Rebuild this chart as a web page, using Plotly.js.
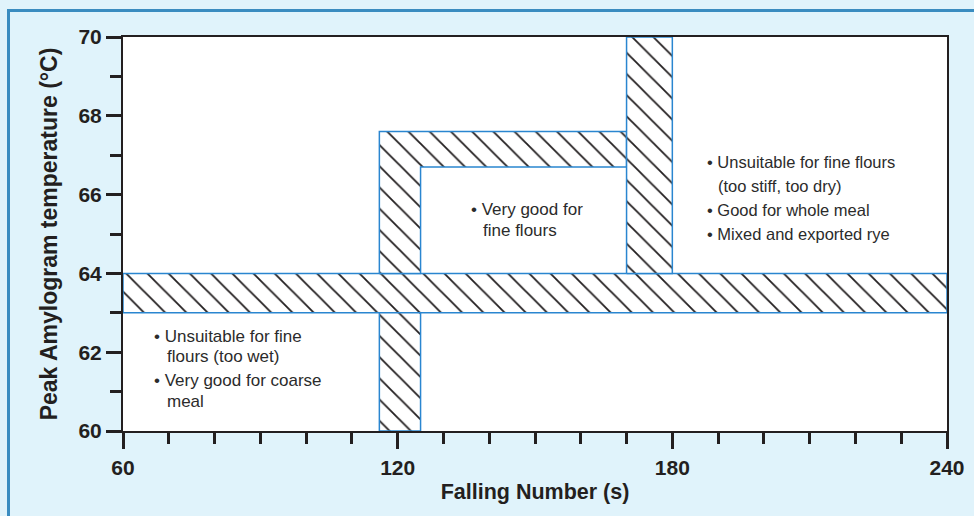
<!DOCTYPE html>
<html>
<head>
<meta charset="utf-8">
<script src="https://cdn.plot.ly/plotly-3.0.1.min.js"></script>
<style>
  html, body { margin: 0; padding: 0; }
  #wrap { position: relative; width: 974px; height: 516px; overflow: hidden; background: #e0f3fb; }
  #frame { position: absolute; left: 7px; top: 9px; width: 1100px; height: 700px;
           border-left: 3px solid #3a8cc0; border-top: 3px solid #3a8cc0; box-sizing: border-box; }
  #chart { position: absolute; left: 0; top: 0; width: 974px; height: 516px; }
</style>
</head>
<body>
<div id="wrap"><div id="frame"></div><div id="chart"></div></div>
<script>
// Region outlines (Falling Number in s, Peak Amylogram temperature in °C)
const regionNames = ['Band 63–64 °C', 'Column 116–125 s (low)', 'Upper L-shaped zone', 'Column 170–180 s'];
const regionX = [
  [60, 240, 240, 60, 60],
  [116, 125, 125, 116, 116],
  [116, 116, 170, 170, 125, 125, 116],
  [170, 180, 180, 170, 170]
];
const regionY = [
  [63, 63, 64, 64, 63],
  [60, 60, 63, 63, 60],
  [64, 67.6, 67.6, 66.7, 66.7, 64, 64],
  [64, 64, 70, 70, 64]
];

// Text notes
const noteText = [
  '• Unsuitable for fine', 'flours (too wet)', '• Very good for coarse', 'meal',
  '• Very good for', 'fine flours',
  '• Unsuitable for fine flours', '(too stiff, too dry)', '• Good for whole meal', '• Mixed and exported rye'
];
const noteSize = [17, 17, 17, 17, 17, 17, 16.5, 16.5, 16.5, 16.5];
const noteX = [66.3, 69.2, 66.3, 69.2, 135.6, 138.2, 187.1, 189.5, 187.1, 187.1];
const noteY = [62.39, 61.90, 61.29, 60.76, 65.61, 65.08, 66.83, 66.22, 65.61, 65.0];

const xTickVals = [60, 120, 180, 240];
const yTickVals = [60, 62, 64, 66, 68, 70];

const ink = '#231f20';
const font = '"Liberation Sans", Arial, Helvetica, sans-serif';

const traces = regionX.map((xs, i) => ({
  type: 'scatter',
  mode: 'lines',
  name: regionNames[i],
  x: xs,
  y: regionY[i],
  fill: 'toself',
  fillcolor: 'white',
  fillpattern: { shape: '\\', size: 15, solidity: 0.12, fgcolor: ink, bgcolor: 'white' },
  line: { color: '#2a86d0', width: 1.5 },
  hoverinfo: 'skip',
  showlegend: false
}));

const annotations = noteText.map((t, i) => ({
  x: noteX[i], y: noteY[i], xref: 'x', yref: 'y',
  text: t, showarrow: false, xanchor: 'left', yanchor: 'middle',
  font: { family: font, size: noteSize[i], color: '#2b2b2b' }
}));

const layout = {
  width: 974, height: 516,
  margin: { l: 123, r: 27, t: 37, b: 85 },
  paper_bgcolor: 'rgba(0,0,0,0)',
  plot_bgcolor: 'white',
  font: { family: font, color: ink },
  xaxis: {
    range: [60, 240], tickvals: xTickVals, ticktext: xTickVals.map(String),
    ticks: 'outside', ticklen: 16, tickwidth: 3, tickcolor: ink,
    minor: { dtick: 10, tick0: 60, ticks: 'outside', ticklen: 11, tickwidth: 3, tickcolor: ink, showgrid: false },
    showgrid: false, zeroline: false,
    showline: true, linewidth: 2, linecolor: ink, mirror: true,
    tickfont: { family: font, size: 21, color: ink, weight: 'bold' },
    ticklabelstandoff: 1,
    title: { text: '<b>Falling Number (s)</b>', font: { family: font, size: 21.5, color: ink }, standoff: 6 }
  },
  yaxis: {
    range: [60, 70], tickvals: yTickVals, ticktext: yTickVals.map(String),
    ticks: 'outside', ticklen: 15, tickwidth: 3, tickcolor: ink,
    minor: { dtick: 1, tick0: 60, ticks: 'outside', ticklen: 11, tickwidth: 3, tickcolor: ink, showgrid: false },
    showgrid: false, zeroline: false,
    showline: true, linewidth: 2, linecolor: ink, mirror: true,
    tickfont: { family: font, size: 21, color: ink, weight: 'bold' },
    ticklabelstandoff: 0,
    title: { text: '<b>Peak Amylogram temperature (°C)</b>', font: { family: font, size: 23, color: ink }, standoff: 14 }
  },
  annotations: annotations,
  showlegend: false
};

Plotly.newPlot('chart', traces, layout, { displayModeBar: false, staticPlot: true });
</script>
</body>
</html>
